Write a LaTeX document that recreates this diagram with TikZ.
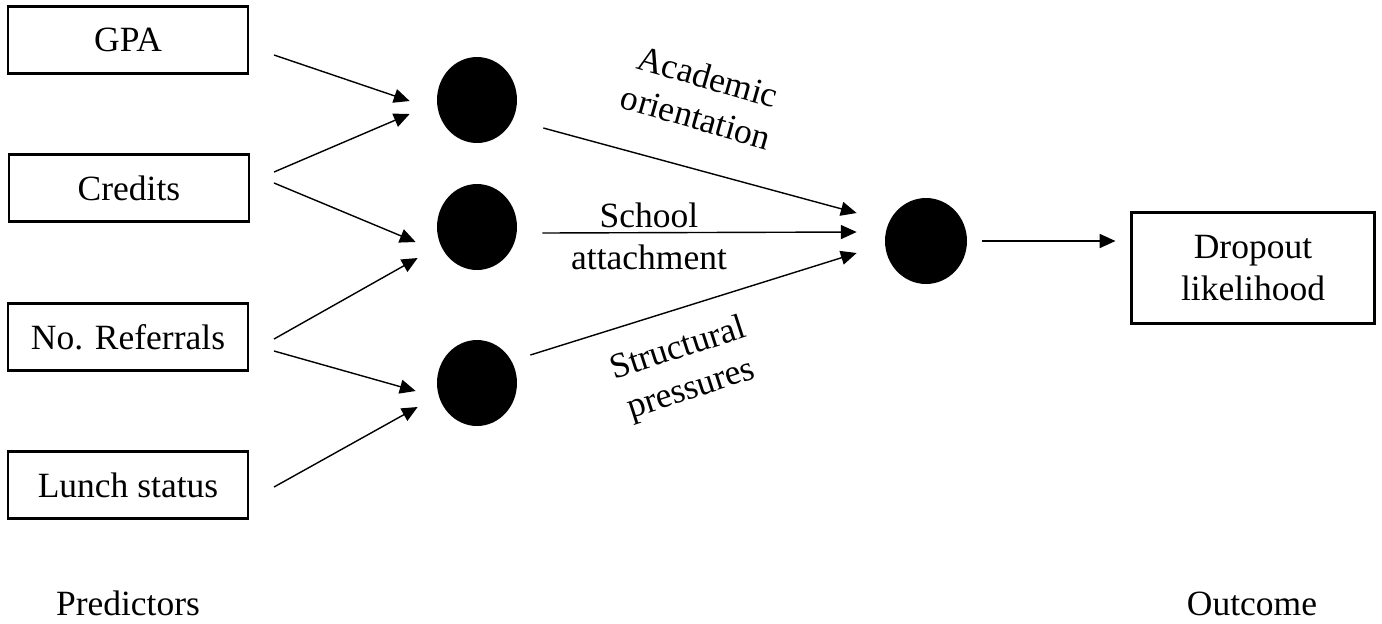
\documentclass[tikz,border=0pt]{standalone}
\usepackage{fontspec}
\setmainfont{Liberation Serif}
\usepackage{tikz}
\usetikzlibrary{shapes.geometric, calc, arrows.meta}

\begin{document}
\begin{tikzpicture}[x=0.02cm, y=-0.02cm, font=\fontsize{20.2}{24}\selectfont,
        >={Triangle[length=9pt, width=8pt]},
        box/.style={draw, line width=1.2pt, minimum width=4.8cm, minimum height=1.34cm, align=center},
        dot/.style={ellipse, fill=black, inner sep=0pt, minimum width=1.6cm, minimum height=1.72cm},
        arr/.style={->, line width=0.8pt}]
        \useasboundingbox (0,0) rectangle (1382,623);

        % predictors
        \node[box] (GPA) at (128,40) {GPA};
        \node[box] (CRED) at (129,188) {Credits};
        \node[box] (REF) at (128,337) {No. Referrals};
        \node[box] (LUNCH) at (128,485) {Lunch status};

        % hidden layer
        \node[dot] (H1) at (477,100) {};
        \node[dot] (H2) at (477,227) {};
        \node[dot] (H3) at (477,383) {};
        \node[dot, minimum width=1.64cm] (OUT) at (926,241) {};

        \node[box, minimum width=4.86cm, minimum height=2.22cm] (DROP) at (1253,268) {Dropout\\likelihood};

        \draw[arr] ($(GPA.east)+(25,15)$) -- ($(H1.west)+(-27,1)$);
        \draw[arr] ($(CRED.east)+(24,-16)$) -- ($(H1.west)+(-27,14)$);
        \draw[arr] ($(CRED.east)+(24,-5)$) -- ($(H2.west)+(-21,15)$);
        \draw[arr] ($(REF.east)+(25,2)$) -- ($(H2.west)+(-19,31)$);
        \draw[arr] ($(REF.east)+(25,14)$) -- ($(H3.west)+(-21,8)$);
        \draw[arr] ($(LUNCH.east)+(25,2)$) -- ($(H3.west)+(-19,24)$);

        \draw[arr] ($(H1.east)+(26,28)$) -- ($(OUT.west)+(-28,-28)$);
        \draw[arr] ($(H2.east)+(25,6)$) -- ($(OUT.west)+(-28,-9)$);
        \draw[arr] ($(H3.east)+(13,-28)$) -- ($(OUT.west)+(-28,12)$);
        \draw[arr] ($(OUT.east)+(15,0)$) -- ($(DROP.west)+(-15,-27)$);

        % labels
        \node[rotate=-16, align=center] (ACAD) at (702,97) {Academic\\orientation};
        \node[align=center] (SCHOOL) at (649,236) {School\\attachment};
        \node[rotate=18, align=center] (STRUCT) at (685,370) {Structural\\pressures};

        \node[anchor=base] (PRED) at (128,615) {Predictors};
        \node[anchor=base] (OUTC) at (1252,615) {Outcome};
    \end{tikzpicture}
\end{document}
